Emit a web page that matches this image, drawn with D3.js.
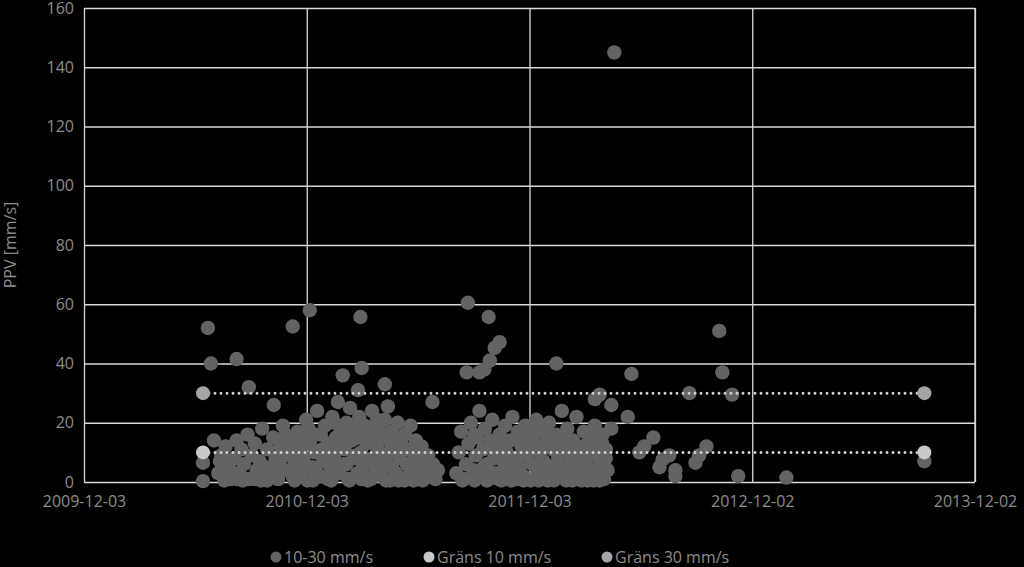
<!DOCTYPE html>
<html>
<head>
<meta charset="utf-8">
<script src="https://cdn.jsdelivr.net/npm/d3@7"></script>
<style>
body { margin: 0; background: #000; }
text { font-family: "Open Sans", sans-serif; }
</style>
</head>
<body>
<script>
// days after 2009-12-03, PPV value
const startDate = new Date(2009, 11, 3);
const tickDates = ["2009-12-03", "2010-12-03", "2011-12-03", "2012-12-02", "2013-12-02"];
const yTicks = [0, 20, 40, 60, 80, 100, 120, 140, 160];

const outliers = [[203,52],[208,40],[250,41.5],[270,32],[342,52.5],[370,58],[453,55.7],[455,38.5],[629,60.5],[663,55.7],[673,45.3],[681,47.2],[665,41],[774,40],[869,145],[1041,51],[1046,37],[1062,29.5],[992,30],[897,36.5],[845,29.5],[864,26],[891,22],[933,15],[948,7.5],[969,4],[1020,12],[1002,6.5],[1072,2],[1151,1.5],[1377,7],[195,6.5],[195,0.3],[213,14],[223,7],[627,37],[648,37],[656,38],[424,36],[449,31],[493,33],[498,25.5],[311,26],[571,27],[864,18],[910,10],[918,12],[943,5],[959,9],[1008,9],[969,2],[837,28],[832,17],[855,11],[850,2]];

const cluster2010 = [[220,3],[225,9],[232,12],[238,5],[240,1],[246,8],[250,14],[255,3],[258,11],[262,6],[268,16],[270,1],[275,9],[280,13],[283,4],[288,7],[292,18],[296,2],[300,11],[305,5],[310,15],[314,8],[318,1],[322,12],[326,19],[330,4],[334,9],[338,14],[342,2],[346,6],[350,17],[352,11],[356,3],[360,8],[364,21],[366,0.5],[370,13],[374,5],[378,10],[382,24],[385,2],[388,16],[392,7],[395,19],[398,12],[400,1],[404,4],[407,22],[410,9],[413,15],[416,27],[418,3],[421,18],[424,6],[427,11],[430,20],[433,1],[436,25],[439,14],[442,8],[445,17],[448,3],[451,22],[454,10],[457,5],[460,19],[463,13],[466,1],[469,7],[472,24],[475,15],[478,4],[481,11],[484,18],[487,2],[490,9],[493,21],[496,6],[499,14],[502,0.5],[505,17],[508,10],[511,3],[514,20],[517,8],[520,13],[523,1],[526,16],[529,6],[532,11],[535,19],[538,4],[541,9],[544,14],[547,2],[550,7],[553,12],[556,1],[560,5],[564,9],[568,3],[572,6],[576,1],[580,4],[230,0.5],[260,0.5],[290,0.5],[320,6],[345,0.5],[375,0.5],[405,0.5],[435,0.5],[465,0.5],[495,0.5],[525,0.5],[555,0.5],[395,8],[445,9],[485,7],[515,0.5],[540,0.5],[300,0.5],[380,16],[400,13],[410,20],[420,12],[430,16],[440,19],[450,15],[460,8],[470,17],[480,21],[490,15],[500,10],[510,14],[470,1],[480,6],[430,6],[380,4],[360,14],[340,10],[330,16],[310,2],[280,1],[250,1],[355,7],[368,18],[390,11],[415,6],[455,1],[505,5],[530,2],[545,9]];

const cluster2011 = [[610,3],[614,10],[618,17],[622,1],[626,6],[630,13],[634,20],[638,4],[642,9],[645,15],[648,24],[651,2],[654,11],[657,18],[660,6],[663,1],[666,14],[669,21],[672,8],[675,3],[678,12],[681,16],[684,0.5],[687,7],[690,19],[693,10],[696,4],[699,14],[702,22],[705,1],[708,8],[711,17],[714,5],[717,12],[720,2],[723,19],[726,9],[729,15],[732,0.5],[735,6],[738,13],[741,21],[744,3],[747,10],[750,17],[753,7],[756,1],[759,14],[762,20],[765,5],[768,11],[771,2],[774,16],[777,8],[780,13],[783,24],[786,4],[789,10],[792,18],[795,1],[798,7],[801,14],[804,3],[807,22],[810,9],[813,5],[816,12],[819,17],[822,1],[825,8],[828,14],[831,4],[834,11],[837,19],[840,2],[843,9],[846,6],[849,13],[852,1],[855,8],[858,4],[620,0.5],[640,0.5],[660,0.5],[700,0.5],[720,0.5],[745,0.5],[770,0.5],[800,0.5],[825,0.5],[845,0.5],[690,5],[750,3],[815,0.5],[640,16],[655,5],[670,12],[685,13],[700,8],[715,15],[730,11],[740,17],[755,12],[765,16],[775,4],[790,14],[805,12],[820,7],[835,15],[850,16],[680,1],[710,1],[760,0.5],[790,0.5],[835,0.5]];

const limit10 = [[195,10],[1377,10]];
const limit30 = [[195,30],[1377,30]];

const width = 1024, height = 567;
const margins = { left: 84, right: 49, top: 8, bottom: 85 };

const svg = d3.select("body").append("svg")
    .attr("width", width).attr("height", height)
    .style("background", "#000");

const toDate = d => d3.timeDay.offset(startDate, d);
const x = d3.scaleTime()
    .domain([startDate, new Date(2013, 11, 2)])
    .range([margins.left, width - margins.right]);
const y = d3.scaleLinear().domain([0, 160]).range([height - margins.bottom, margins.top]);

// grid + axes
svg.append("g")
    .attr("transform", "translate(0," + (height - margins.bottom) + ")")
    .call(d3.axisBottom(x).tickValues(tickDates.map(d => d3.timeParse("%Y-%m-%d")(d)))
        .tickFormat(d3.timeFormat("%Y-%m-%d"))
        .tickSize(-(height - margins.bottom - margins.top)).tickPadding(14));
svg.append("g")
    .attr("transform", "translate(" + margins.left + ",0)")
    .call(d3.axisLeft(y).tickValues(yTicks).tickSize(-(width - margins.left - margins.right)).tickPadding(10));
svg.selectAll(".domain").remove();
svg.selectAll(".tick line").attr("stroke", "#d9d9d9").attr("stroke-width", 1.3);
svg.selectAll(".tick text").attr("fill", "#8c8c8c").style("font-size", "16px");
svg.append("line").attr("x1", x.range()[1]).attr("x2", x.range()[1])
    .attr("y1", y(0)).attr("y2", y(160)).attr("stroke", "#d9d9d9").attr("stroke-width", 1.3);

svg.append("text")
    .attr("transform", "translate(16," + y(80) + ") rotate(-90)")
    .attr("text-anchor", "middle").attr("fill", "#8c8c8c").style("font-size", "16px")
    .text("PPV [mm/s]");

// scatter
const pts = cluster2010.concat(cluster2011, outliers);
svg.append("g").selectAll("circle").data(pts).enter().append("circle")
    .attr("cx", d => x(toDate(d[0]))).attr("cy", d => y(d[1]))
    .attr("r", 7.2).attr("fill", "#636363");

// limit lines
function drawLimit(data, color) {
    const line = d3.line().x(d => x(toDate(d[0]))).y(d => y(d[1]));
    svg.append("path").datum(data).attr("d", line)
        .attr("fill", "none").attr("stroke", "#d0d0d0").attr("stroke-width", 3)
        .attr("stroke-dasharray", "0,6").attr("stroke-linecap", "round");
    svg.append("g").selectAll("circle").data(data).enter().append("circle")
        .attr("cx", d => x(toDate(d[0]))).attr("cy", d => y(d[1]))
        .attr("r", 7).attr("fill", color);
}
drawLimit(limit10, "#c9c9c9");
drawLimit(limit30, "#a5a5a5");

// legend
const legend = [["10-30 mm/s", "#636363", 276], ["Gräns 10 mm/s", "#c9c9c9", 429], ["Gräns 30 mm/s", "#a5a5a5", 607]];
legend.forEach(l => {
    svg.append("circle").attr("cx", l[2]).attr("cy", 557).attr("r", 5.5).attr("fill", l[1]);
    svg.append("text").attr("x", l[2] + 8).attr("y", 563).attr("fill", "#8c8c8c")
        .style("font-size", "16px").text(l[0]);
});
</script>
</body>
</html>
